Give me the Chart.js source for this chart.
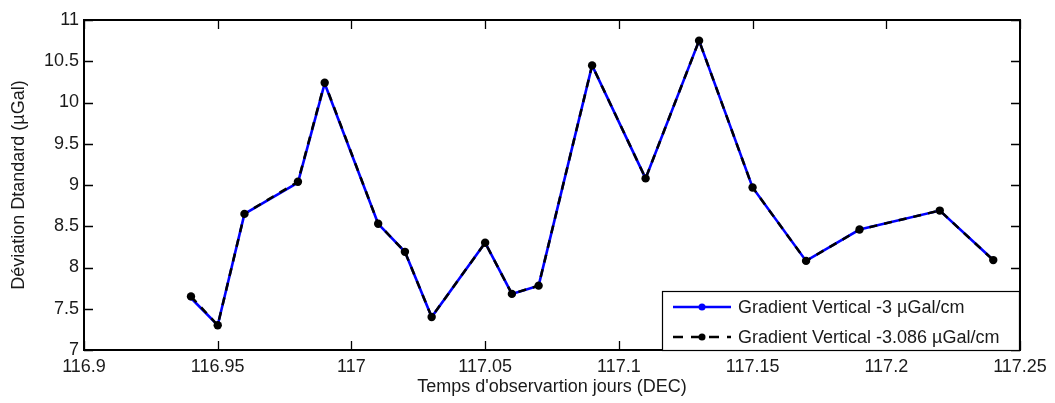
<!DOCTYPE html>
<html>
<head>
<meta charset="utf-8">
<script src="https://cdn.jsdelivr.net/npm/chart.js@4.4.1/dist/chart.umd.min.js"></script>
<style>
  html, body { margin: 0; padding: 0; background: #fff; }
  #wrap { width: 1055px; height: 403px; position: relative; }
</style>
</head>
<body>
<div id="wrap"><canvas id="gradChart"></canvas></div>
<script>
// observation times (decimal days)
const times = [116.94, 116.95, 116.96, 116.98, 116.99, 117.01, 117.02, 117.03, 117.05, 117.06,
               117.07, 117.09, 117.11, 117.13, 117.15, 117.17, 117.19, 117.22, 117.24];
// standard deviation, gradient -3 µGal/cm
const sdGrad3 = [7.63, 7.30, 8.65, 9.03, 10.23, 8.53, 8.19, 7.40, 8.30, 7.68,
                 7.78, 10.45, 9.08, 10.75, 8.97, 8.08, 8.46, 8.69, 8.09];
// standard deviation, gradient -3.086 µGal/cm
const sdGrad3086 = [7.65, 7.30, 8.65, 9.04, 10.24, 8.53, 8.19, 7.40, 8.30, 7.68,
                    7.78, 10.45, 9.08, 10.75, 8.97, 8.08, 8.46, 8.69, 8.09];
const seriesLabels = ['Gradient Vertical -3 µGal/cm', 'Gradient Vertical -3.086 µGal/cm'];
const xTicks = [116.9, 116.95, 117, 117.05, 117.1, 117.15, 117.2, 117.25];
const yTicks = [7, 7.5, 8, 8.5, 9, 9.5, 10, 10.5, 11];

const FONT = 'Arial, "Liberation Sans", Helvetica, sans-serif';
const TXT = '#1a1a1a';

// MATLAB style box with inward ticks on all four sides
const boxPlugin = {
    id: 'box',
    afterDatasetsDraw(chart) {
        const { ctx, chartArea: a, scales: { x, y } } = chart;
        const tl = 9;
        ctx.save();
        ctx.strokeStyle = '#000';
        ctx.lineWidth = 1.3;
        ctx.beginPath();
        xTicks.forEach((v) => {
            const px = Math.round(x.getPixelForValue(v)) + 0.5;
            ctx.moveTo(px, a.bottom); ctx.lineTo(px, a.bottom - tl);
            ctx.moveTo(px, a.top); ctx.lineTo(px, a.top + tl);
        });
        yTicks.forEach((v) => {
            const py = Math.round(y.getPixelForValue(v)) + 0.5;
            ctx.moveTo(a.left, py); ctx.lineTo(a.left + tl, py);
            ctx.moveTo(a.right, py); ctx.lineTo(a.right - tl, py);
        });
        ctx.stroke();
        ctx.lineWidth = 2;
        ctx.strokeRect(a.left, a.top, a.right - a.left, a.bottom - a.top);
        ctx.restore();
    }
};

// legend box in the lower right corner, inside the axes
const legendPlugin = {
    id: 'boxLegend',
    afterDraw(chart) {
        const { ctx, chartArea: a } = chart;
        const w = 358, h = 60;
        const bx = a.right - w, by = a.bottom + 1 - h;
        ctx.save();
        ctx.fillStyle = '#fff';
        ctx.fillRect(bx, by, w, h);
        ctx.strokeStyle = '#000';
        ctx.lineWidth = 1.2;
        ctx.strokeRect(bx + 0.5, by + 0.5, w - 1, h - 1);
        ctx.font = '18px ' + FONT;
        ctx.textBaseline = 'middle';
        chart.data.datasets.forEach((ds, i) => {
            const ly = by + 16 + i * 30;
            const x0 = bx + 11, x1 = bx + 69;
            ctx.strokeStyle = ds.borderColor;
            ctx.lineWidth = 2.5;
            ctx.setLineDash(ds.borderDash ? [10, 8] : []);
            ctx.beginPath();
            ctx.moveTo(x0, ly); ctx.lineTo(x1, ly);
            ctx.stroke();
            ctx.setLineDash([]);
            ctx.fillStyle = ds.pointBackgroundColor;
            ctx.beginPath();
            ctx.arc((x0 + x1) / 2, ly, 3.5, 0, Math.PI * 2);
            ctx.fill();
            ctx.fillStyle = TXT;
            ctx.fillText(ds.label, bx + 76, ly + 1);
        });
        ctx.restore();
    }
};

new Chart(document.getElementById('gradChart'), {
    type: 'line',
    data: {
        datasets: [{
            label: seriesLabels[0],
            data: times.map((t, i) => ({ x: t, y: sdGrad3[i] })),
            borderColor: '#0000ff',
            backgroundColor: '#0000ff',
            pointBackgroundColor: '#0000ff',
            pointBorderWidth: 0,
            pointRadius: 2.5,
            borderWidth: 2.6,
            tension: 0,
            order: 2
        }, {
            label: seriesLabels[1],
            data: times.map((t, i) => ({ x: t, y: sdGrad3086[i] })),
            borderColor: '#000000',
            backgroundColor: '#000000',
            pointBackgroundColor: '#000000',
            pointBorderWidth: 0,
            pointRadius: 4.2,
            borderWidth: 2.5,
            borderDash: [8, 7],
            tension: 0,
            order: 1
        }]
    },
    options: {
        responsive: true,
        maintainAspectRatio: false,
        animation: false,
        events: [],
        layout: { padding: { top: 20, right: 35, left: 0, bottom: 0 } },
        plugins: { legend: { display: false }, tooltip: { enabled: false } },
        scales: {
            x: {
                type: 'linear',
                min: 116.9,
                max: 117.25,
                afterBuildTicks: (s) => { s.ticks = xTicks.map((v) => ({ value: v })); },
                afterFit: (s) => { s.height = 53; },
                grid: { display: false, drawTicks: false },
                border: { display: false },
                ticks: {
                    padding: 6,
                    color: TXT,
                    font: { family: FONT, size: 18 },
                    callback: (v) => String(Math.round(v * 100) / 100)
                },
                title: {
                    display: true,
                    text: "Temps d'observartion jours (DEC)",
                    color: TXT,
                    font: { family: FONT, size: 18 },
                    padding: { top: 0, bottom: 5 }
                }
            },
            y: {
                min: 7,
                max: 11,
                afterBuildTicks: (s) => { s.ticks = yTicks.map((v) => ({ value: v })); },
                afterFit: (s) => { s.width = 84; },
                grid: { display: false, drawTicks: false },
                border: { display: false },
                ticks: {
                    padding: 5,
                    color: TXT,
                    font: { family: FONT, size: 18 },
                    callback: (v) => String(v)
                },
                title: {
                    display: true,
                    text: 'Déviation Dtandard (µGal)',
                    color: TXT,
                    font: { family: FONT, size: 18 },
                    padding: { top: 8, bottom: 0 }
                }
            }
        }
    },
    plugins: [boxPlugin, legendPlugin]
});
</script>
</body>
</html>
